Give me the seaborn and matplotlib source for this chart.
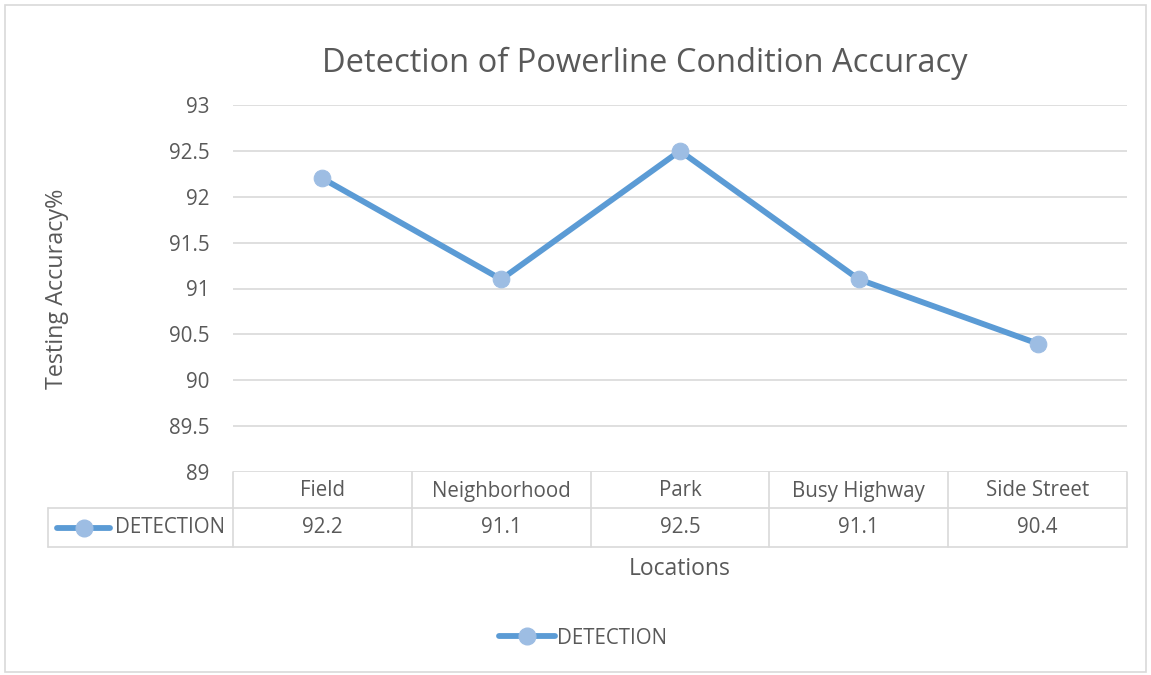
import seaborn as sns
import numpy as np
import pandas as pd
from matplotlib import pyplot as plt
from matplotlib.lines import Line2D

locations = ["Field", "Neighborhood", "Park", "Busy Highway", "Side Street"]
detection = [92.2, 91.1, 92.5, 91.1, 90.4]
y_ticks = [89, 89.5, 90, 90.5, 91, 91.5, 92, 92.5, 93]
series_name = "DETECTION"

W, H = 1151, 675
LINE = "#5B9BD5"
MARK = "#9DBDE3"
TEXT = "#595959"
GRID = "#D9D9D9"
FS = 14.8

sns.set_theme(style="white")
plt.rcParams['font.family'] = ['Open Sans', 'DejaVu Sans']

df = pd.DataFrame({"pos": np.arange(len(locations)), "acc": detection})

fig = plt.figure(figsize=(W / 100, H / 100), dpi=100)


def fx(px):
    return px / W


def fy(py):
    return 1 - py / H


# plot area in pixels
L, R, T, B = 233, 1127, 105, 472
ax = fig.add_axes([fx(L), fy(B), fx(R) - fx(L), fy(T) - fy(B)])

sns.lineplot(data=df, x="pos", y="acc", ax=ax, color=LINE, linewidth=4.2,
             marker="o", markersize=12, markerfacecolor=MARK,
             markeredgecolor=MARK, zorder=3)

ax.set_xlim(-0.5, len(locations) - 0.5)
ax.set_ylim(y_ticks[0], y_ticks[-1])
ax.set_yticks(y_ticks)
ax.set_yticklabels([f"{t:g}" for t in y_ticks], color=TEXT, fontsize=FS)
ax.set_xticks([])
ax.set_xlabel("")
ax.set_ylabel("")
ax.tick_params(axis="y", length=0, pad=17)
for s in ax.spines.values():
    s.set_visible(False)
for t in y_ticks:
    ax.axhline(t, color=GRID, linewidth=1.2, zorder=1)

# y label and title
fig.text(fx(57), fy((T + B) / 2), "Testing Accuracy%", rotation=90,
         ha="center", va="center", color=TEXT, fontsize=16.8)
fig.text(fx(645), fy(63), "Detection of Powerline Condition Accuracy",
         ha="center", va="center", color=TEXT, fontsize=23.5)

# data table
col_w = (R - L) / len(locations)
row1, row2, row3 = B, 508, 547
tab_left = 48
lw = 1.2
fig.add_artist(Line2D([fx(tab_left), fx(R)], [fy(row2)] * 2, color=GRID, lw=lw))
fig.add_artist(Line2D([fx(tab_left), fx(R)], [fy(row3)] * 2, color=GRID, lw=lw))
fig.add_artist(Line2D([fx(tab_left)] * 2, [fy(row2), fy(row3)], color=GRID, lw=lw))
for i in range(len(locations) + 1):
    x = L + i * col_w
    fig.add_artist(Line2D([fx(x)] * 2, [fy(row1), fy(row3)], color=GRID, lw=lw))
for i, (loc, val) in enumerate(zip(locations, detection)):
    cx = L + (i + 0.5) * col_w
    fig.text(fx(cx), fy((row1 + row2) / 2 + 1), loc, ha="center", va="center",
             color=TEXT, fontsize=FS)
    fig.text(fx(cx), fy((row2 + row3) / 2), f"{val:g}", ha="center",
             va="center", color=TEXT, fontsize=FS)

# legend key inside table
ky = fy((row2 + row3) / 2)
fig.add_artist(Line2D([fx(57), fx(110)], [ky, ky], color=LINE, lw=4.2,
                      solid_capstyle="round"))
fig.add_artist(Line2D([fx(83.5)], [ky], marker="o", markersize=12,
                      markerfacecolor=MARK, markeredgecolor=MARK))
fig.text(fx(115), ky, series_name, ha="left", va="center", color=TEXT, fontsize=FS)

fig.text(fx(680), fy(569), "Locations", ha="center", va="center",
         color=TEXT, fontsize=16.5)

# bottom legend
handle = Line2D([], [], color=LINE, lw=4.2, marker="o", markersize=12,
                markerfacecolor=MARK, markeredgecolor=MARK)
fig.legend([handle], [series_name], loc="center", bbox_to_anchor=(fx(583), fy(638)),
           frameon=False, fontsize=FS, labelcolor=TEXT, handlelength=2.7,
           handletextpad=0.1)

# chart border
fig.add_artist(plt.Rectangle((fx(5), fy(672)), fx(1146) - fx(5), fy(5) - fy(672),
                             fill=False, edgecolor=GRID, lw=1.2))

fig.savefig("out.png", dpi=100)
